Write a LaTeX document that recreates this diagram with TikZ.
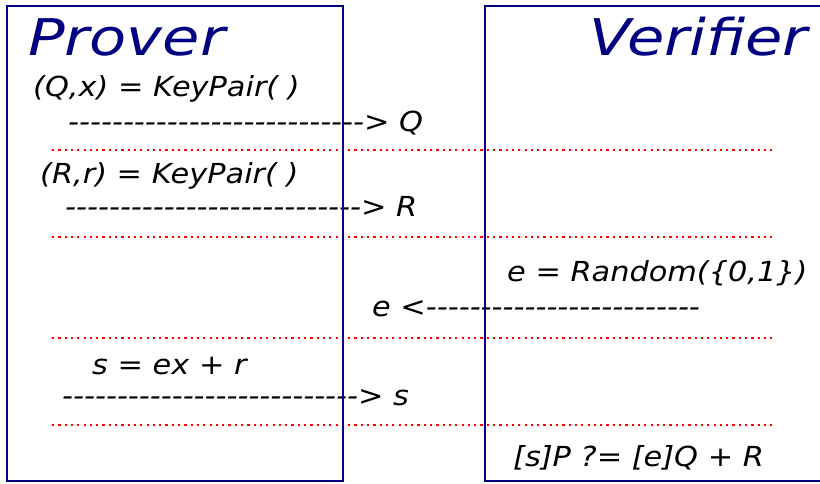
\documentclass[tikz,border=0pt]{standalone}
\usepackage{fontspec}
\newfontfamily\slidefont[FakeStretch=1.1,Ligatures=TeXOff]{DejaVu Sans}
\newfontfamily\headfont[FakeStretch=1.2,Ligatures=TeXOff]{DejaVu Sans}
\usepackage{tikz}
\definecolor{navy}{RGB}{0,0,128}

\begin{document}
\begin{tikzpicture}[
  x=1pt, y=-1pt,
  txt/.style={anchor=base west, inner sep=0pt, font=\slidefont\itshape\fontsize{27.6}{32}\selectfont},
  title/.style={inner sep=0pt, text=navy, font=\headfont\itshape\fontsize{50.6}{60}\selectfont},
  lane/.style={draw=navy, line width=2.2pt},
  sep/.style={draw=red, line width=1.8pt, dash pattern=on 2.2pt off 4.1pt}
]
\clip (0,0) rectangle (820,483);
\def\xA{52}
\def\xB{775}

% titles
\node[title, anchor=base west] (tP) at (28,55) {Prover};
\node[title, anchor=base east] (tV) at (808,55) {Verifier};

% step 1: public key
\node[txt] (kq) at (33,96) {(Q,x) = KeyPair( )};
\node[txt] (aq) at (68,131) {---------------------------> Q};

% step 2: commitment
\node[txt] (kr) at (40,183) {(R,r) = KeyPair( )};
\node[txt] (ar) at (65,216) {---------------------------> R};

% step 3: challenge
\node[txt] (ce) at (507,281) {e = Random(\{0,1\})};
\node[txt] (ae) at (372,316) {e <-------------------------};

% step 4: response
\node[txt] (rs) at (92,374) {s = ex + r};
\node[txt] (as) at (62,405) {---------------------------> s};

% check
\node[txt] (ck) at (513,466) {[s]P ?= [e]Q + R};

% separators
\foreach \y in {150,237,338,425}
  \draw[sep] (\xA,\y) -- (\xB,\y);

% parties
\draw[lane] (7,6) rectangle (343,481);
\draw[lane] (485,6) rectangle (830,481);
\end{tikzpicture}
\end{document}
